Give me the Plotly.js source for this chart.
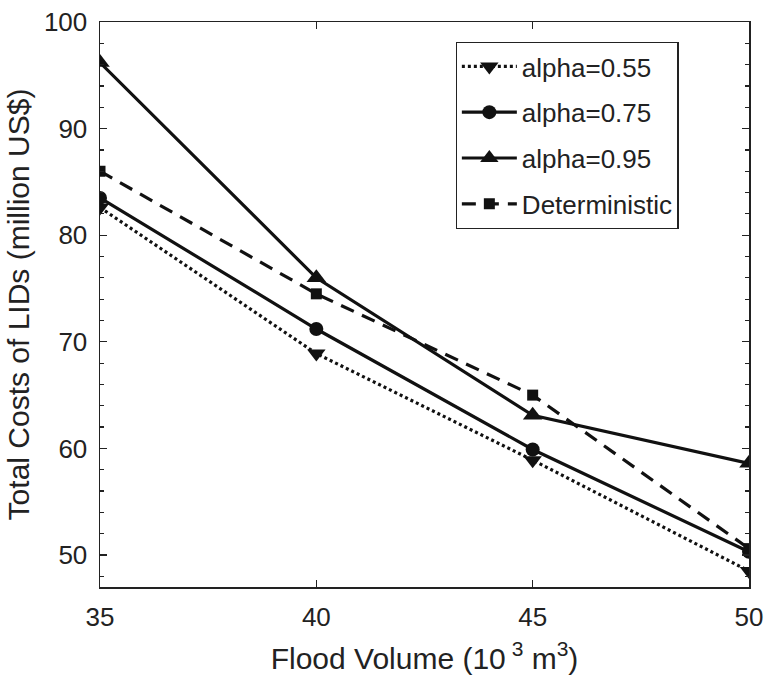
<!DOCTYPE html>
<html>
<head>
<meta charset="utf-8">
<script src="https://cdn.plot.ly/plotly-3.0.1.min.js"></script>
<style>html,body{margin:0;padding:0;background:#fff;}#chart{width:766px;height:678px;}</style>
</head>
<body>
<div id="chart"></div>
<script>
const floodVolume = [35, 40, 45, 50];
const alpha055 = [82.6, 68.9, 58.9, 48.5];
const alpha075 = [83.5, 71.2, 59.9, 50.3];
const alpha095 = [96.2, 76.0, 63.1, 58.6];
const deterministic = [86.0, 74.5, 65.0, 50.6];
const seriesNames = ['alpha=0.55', 'alpha=0.75', 'alpha=0.95', 'Deterministic'];
const xTicks = [35, 40, 45, 50];
const yTicks = [50, 60, 70, 80, 90, 100];

const col = '#111';
const traces = [
  {x: floodVolume, y: alpha055, name: seriesNames[0], legendgroup: 'a', mode: 'lines+markers',
   line: {color: col, width: 3.2, dash: '3px,3px'}, marker: {symbol: 'triangle-down', size: 16, color: col}},
  {x: floodVolume, y: alpha075, name: seriesNames[1], legendgroup: 'b', mode: 'lines+markers',
   line: {color: col, width: 3.2}, marker: {symbol: 'circle', size: 14, color: col}},
  {x: floodVolume, y: alpha095, name: seriesNames[2], legendgroup: 'c', mode: 'lines+markers',
   line: {color: col, width: 3.2}, marker: {symbol: 'triangle-up', size: 17, color: col}},
  {x: floodVolume, y: deterministic, name: seriesNames[3], legendgroup: 'd', mode: 'lines+markers',
   line: {color: col, width: 3.2, dash: '14px,9px'}, marker: {symbol: 'square', size: 11, color: col}}
];

const fontFam = 'Arial, "Liberation Sans", sans-serif';
const layout = {
  width: 766, height: 678,
  margin: {l: 100, r: 17, t: 22, b: 91},
  paper_bgcolor: '#fff', plot_bgcolor: '#fff',
  font: {family: fontFam, color: '#222', size: 26},
  showlegend: true,
  legend: {
    x: 0.548, y: 0.965, xanchor: 'left', yanchor: 'top',
    bordercolor: '#222', borderwidth: 1.2, bgcolor: '#fff',
    font: {family: fontFam, size: 26, color: '#222'},
    traceorder: 'grouped', tracegroupgap: 9, itemwidth: 55
  },
  xaxis: {
    range: [35, 50], tickvals: xTicks, ticktext: xTicks.map(String),
    ticks: 'inside', ticklen: 7, tickcolor: '#222', tickwidth: 1.2,
    showline: true, linecolor: '#222', linewidth: 1.5, mirror: 'ticks',
    showgrid: false, zeroline: false, ticklabelstandoff: 6,
    tickfont: {size: 26, color: '#222'},
    title: {text: 'Flood Volume (10<sup> 3</sup> m<sup>3</sup>)', font: {size: 30, color: '#222'}, standoff: 17}
  },
  yaxis: {
    range: [47, 100], tickvals: yTicks, ticktext: yTicks.map(String),
    ticks: 'inside', ticklen: 7, tickcolor: '#222', tickwidth: 1.2,
    minor: {dtick: 2, ticks: 'inside', ticklen: 4, tickcolor: '#222', tickwidth: 1.2, showgrid: false},
    showline: true, linecolor: '#222', linewidth: 1.5, mirror: 'ticks',
    showgrid: false, zeroline: false, ticklabelstandoff: 6,
    tickfont: {size: 26, color: '#222'},
    title: {text: 'Total Costs of LIDs (million US$)', font: {size: 30, color: '#222'}, standoff: 5}
  }
};

Plotly.newPlot('chart', traces, layout, {displayModeBar: false, staticPlot: true});
</script>
</body>
</html>
